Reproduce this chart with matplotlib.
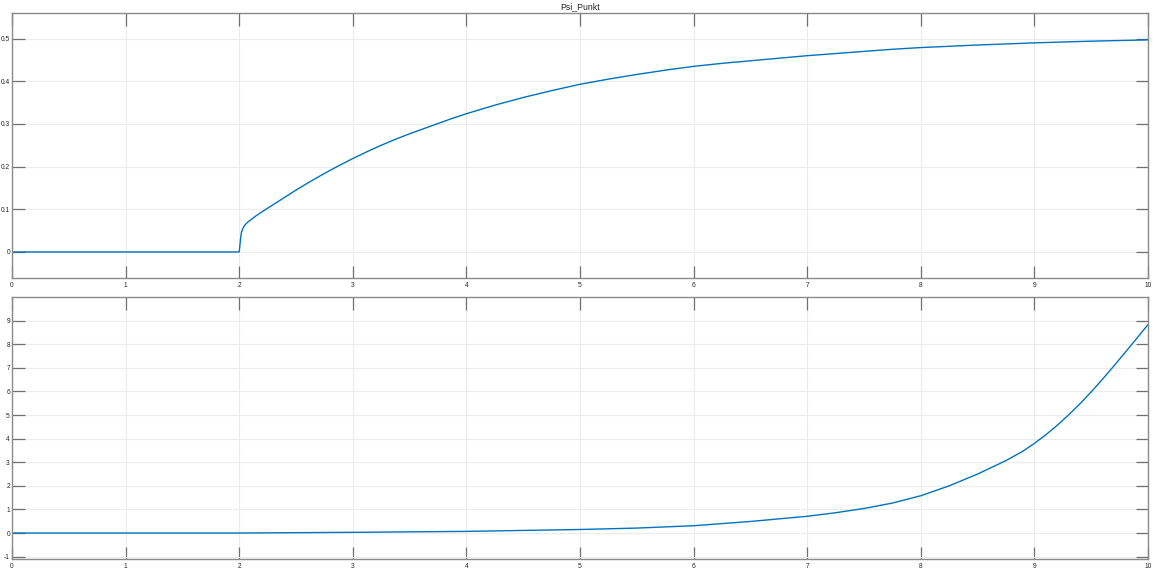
import matplotlib
matplotlib.use("Agg")
import matplotlib.pyplot as plt
from matplotlib.ticker import FuncFormatter

plt.rcParams["font.family"] = ["Liberation Sans", "DejaVu Sans"]

# Psi_Punkt (top), values
t_top = [0, 2.0, 2.005, 2.01, 2.015, 2.02, 2.03, 2.045, 2.06, 2.08, 2.1, 2.15, 2.2, 2.3, 2.4,
         2.5, 2.625, 2.75, 2.875, 3.0, 3.125, 3.25, 3.375, 3.5, 3.625, 3.75, 3.875, 4.0,
         4.25, 4.5, 4.75, 5.0, 5.25, 5.5, 5.75, 6.0, 6.25, 6.5, 6.75, 7.0, 7.25, 7.5, 7.75,
         8.0, 8.5, 9.0, 9.5, 10.0]
psi_punkt = [0, 0, 0.012, 0.026, 0.038, 0.046, 0.054, 0.061, 0.066, 0.071, 0.075, 0.085,
             0.094, 0.111, 0.128, 0.145, 0.165, 0.184, 0.202, 0.219, 0.235, 0.25, 0.264,
             0.277, 0.289, 0.301, 0.313, 0.324, 0.344, 0.362, 0.378, 0.393, 0.405, 0.416,
             0.426, 0.435, 0.442, 0.448, 0.454, 0.46, 0.465, 0.47, 0.475, 0.479, 0.485,
             0.49, 0.494, 0.497]

# bottom signal
t_bot = [0, 2.0, 3.0, 4.0, 5.0, 5.5, 6.0, 6.5, 7.0, 7.25, 7.5, 7.75, 8.0, 8.25, 8.5, 8.75,
         8.9, 9.0, 9.1, 9.2, 9.3, 9.4, 9.5, 9.6, 9.7, 9.8, 9.9, 10.0]
psi = [0, 0, 0.03, 0.07, 0.15, 0.21, 0.31, 0.49, 0.71, 0.86, 1.04, 1.27, 1.58, 2.0, 2.5,
       3.07, 3.47, 3.8, 4.16, 4.56, 5.0, 5.47, 5.98, 6.52, 7.08, 7.66, 8.24, 8.83]

x_ticks = list(range(0, 11))
top_yticks = [0, 0.1, 0.2, 0.3, 0.4, 0.5]
bot_yticks = list(range(-1, 10))

blue = "#0072BD"
spine_col = "#8a8a8a"

fig = plt.figure(figsize=(11.58, 5.83), dpi=100)
ax1 = fig.add_axes([12 / 1158, 1 - 278 / 583, 1136 / 1158, 265 / 583])
ax2 = fig.add_axes([12 / 1158, 1 - 559 / 583, 1136 / 1158, 262 / 583])

fmt = FuncFormatter(lambda v, p: "%g" % v)

for ax in (ax1, ax2):
    ax.set_xlim(0, 10)
    ax.set_xticks(x_ticks)
    ax.xaxis.set_major_formatter(fmt)
    ax.yaxis.set_major_formatter(fmt)
    ax.grid(True, color="#ececec", linewidth=0.8)
    ax.set_axisbelow(True)
    ax.tick_params(direction="in", length=9, width=0.9, color="#707070",
                   top=True, right=True, labelsize=4.8, labelcolor="#262626")
    ax.tick_params(axis="x", pad=3)
    ax.tick_params(axis="y", pad=1.5)
    for s in ax.spines.values():
        s.set_color(spine_col)
        s.set_linewidth(1.0)

ax1.plot(t_top, psi_punkt, color=blue, linewidth=1.0)
ax1.set_ylim(-0.061, 0.56)
ax1.set_yticks(top_yticks)
ax1.set_title("Psi_Punkt", fontsize=6.3, pad=3, color="#262626")

ax2.plot(t_bot, psi, color=blue, linewidth=1.0)
ax2.set_ylim(-1.1, 10)
ax2.set_yticks(bot_yticks)

fig.savefig("out.png", dpi=100)
